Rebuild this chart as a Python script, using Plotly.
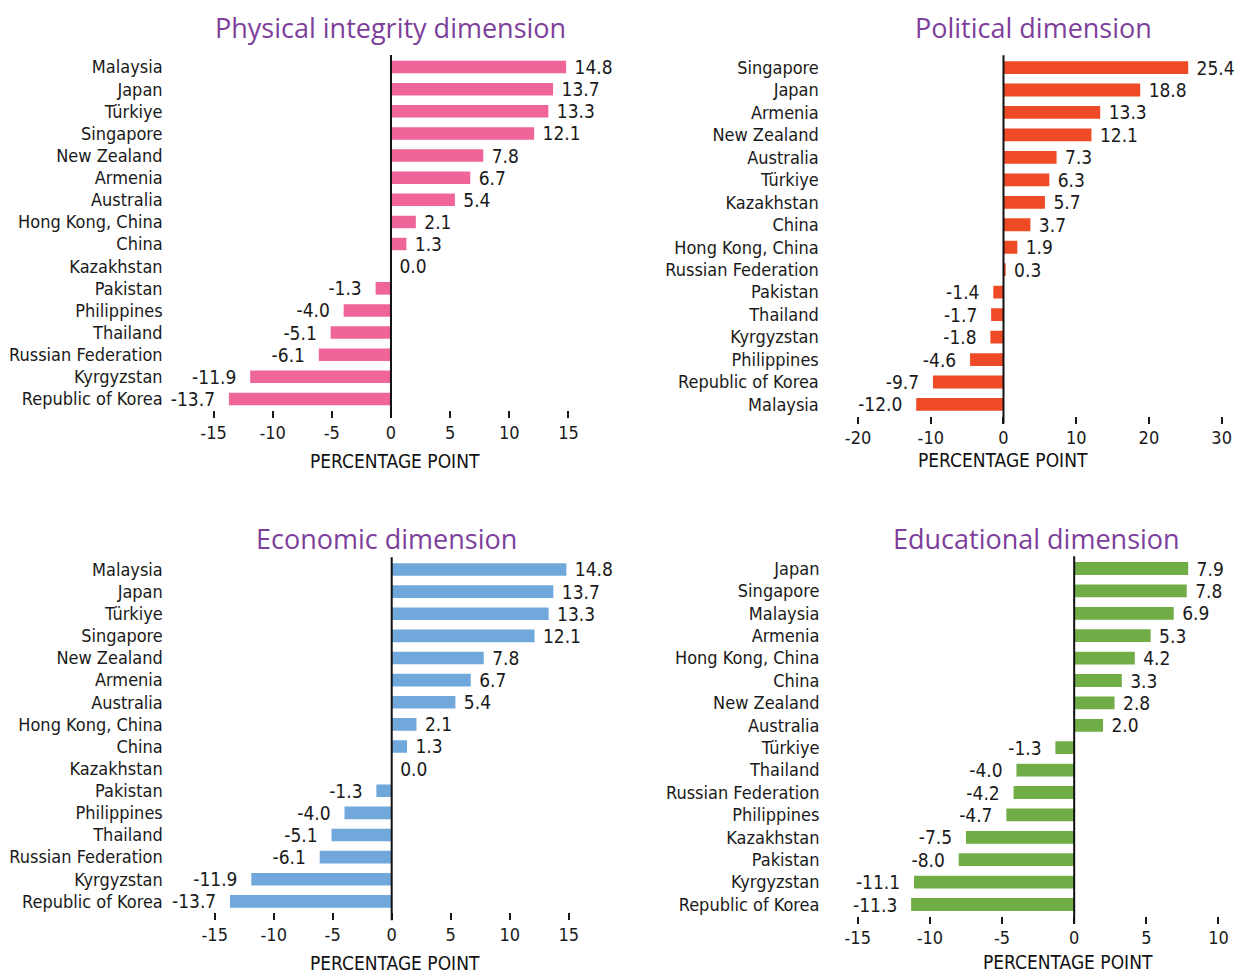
import plotly.graph_objects as go

# ---------------- data ----------------
phys_countries = ["Malaysia", "Japan", "Türkiye", "Singapore", "New Zealand", "Armenia", "Australia",
                  "Hong Kong, China", "China", "Kazakhstan", "Pakistan", "Philippines", "Thailand",
                  "Russian Federation", "Kyrgyzstan", "Republic of Korea"]
phys_values = [14.8, 13.7, 13.3, 12.1, 7.8, 6.7, 5.4, 2.1, 1.3, 0.0, -1.3, -4.0, -5.1, -6.1, -11.9, -13.7]

pol_countries = ["Singapore", "Japan", "Armenia", "New Zealand", "Australia", "Türkiye", "Kazakhstan",
                 "China", "Hong Kong, China", "Russian Federation", "Pakistan", "Thailand", "Kyrgyzstan",
                 "Philippines", "Republic of Korea", "Malaysia"]
pol_values = [25.4, 18.8, 13.3, 12.1, 7.3, 6.3, 5.7, 3.7, 1.9, 0.3, -1.4, -1.7, -1.8, -4.6, -9.7, -12.0]

eco_countries = ["Malaysia", "Japan", "Türkiye", "Singapore", "New Zealand", "Armenia", "Australia",
                 "Hong Kong, China", "China", "Kazakhstan", "Pakistan", "Philippines", "Thailand",
                 "Russian Federation", "Kyrgyzstan", "Republic of Korea"]
eco_values = [14.8, 13.7, 13.3, 12.1, 7.8, 6.7, 5.4, 2.1, 1.3, 0.0, -1.3, -4.0, -5.1, -6.1, -11.9, -13.7]

edu_countries = ["Japan", "Singapore", "Malaysia", "Armenia", "Hong Kong, China", "China", "New Zealand",
                 "Australia", "Türkiye", "Thailand", "Russian Federation", "Philippines", "Kazakhstan",
                 "Pakistan", "Kyrgyzstan", "Republic of Korea"]
edu_values = [7.9, 7.8, 6.9, 5.3, 4.2, 3.3, 2.8, 2.0, -1.3, -4.0, -4.2, -4.7, -7.5, -8.0, -11.1, -11.3]

titles = ["Physical integrity dimension", "Political dimension", "Economic dimension", "Educational dimension"]
axis_title = "PERCENTAGE POINT"
tick_sets = [[-15, -10, -5, 0, 5, 10, 15], [-20, -10, 0, 10, 20, 30],
             [-15, -10, -5, 0, 5, 10, 15], [-15, -10, -5, 0, 5, 10]]

# ---------------- styling ----------------
OFF = 8                       # page body margin of the html page
W, H = 1247 - OFF, 976 - OFF  # figure size so that it exactly fills the window
COND = "DejaVu Sans Condensed, Liberation Sans Narrow, Arial Narrow, sans-serif"
TITLE_FONT = "Open Sans, Lato, sans-serif"
PURPLE = "#7D3F9B"
TXT = "#1a1a1a"
NB = "\u00a0"
colors = ["#EF6499", "#EE4A25", "#70A8DB", "#70AD47"]

# screen-pixel layout targets
panels = [
    # countries, values, x range, x px (left,right), y px (top,bottom), label standoff,
    # title centre x, title top (fig px), axis-title x, axis-title y (fig px)
    (phys_countries, phys_values, [-15.5, 16.5], (207.6, 586.2), (56, 410), 44, 390, 0, 395, 453),
    (pol_countries, pol_values, [-21, 31], (850.8, 1228.9), (56.3, 415.7), 31, 1033, 0, 1003, 452),
    (eco_countries, eco_values, [-15.5, 16.5], (208.8, 586.4), (558.4, 912.4), 45, 387, 511, 395, 955),
    (edu_countries, edu_values, [-15.5, 10.5], (850.5, 1225.7), (557.3, 915.7), 30, 1036, 511, 1068, 954),
]


def fx(px):
    return (px - OFF) / W


def fy(px):
    return 1 - (px - OFF) / H


fig = go.Figure()
annotations = []
shapes = []
for i, (cats, vals, xr, xd, yd, standoff, tx, ty, ax_x, ax_y) in enumerate(panels):
    n = "" if i == 0 else str(i + 1)
    labels = [(NB + f"{v:.1f}") if v >= 0 else (f"{v:.1f}" + NB + NB) for v in vals]
    fig.add_trace(go.Bar(
        y=cats, x=vals, orientation="h",
        marker=dict(color=colors[i], line=dict(width=0)),
        text=labels, textposition="outside", constraintext="none",
        textfont=dict(family=COND, size=19, color=TXT),
        cliponaxis=False, xaxis="x" + n, yaxis="y" + n, showlegend=False,
        hoverinfo="x+y",
    ))
    fig.layout["xaxis" + n] = dict(
        domain=[fx(xd[0]), fx(xd[1])], range=xr, anchor="y" + n, automargin=False,
        tickmode="array", tickvals=tick_sets[i], ticktext=[str(t) for t in tick_sets[i]],
        ticks="outside", ticklen=7, tickwidth=2, tickcolor=TXT,
        ticklabelstandoff=-1,
        showline=False, showgrid=False, zeroline=False,
        tickfont=dict(family=COND, size=18, color=TXT),
    )
    fig.layout["yaxis" + n] = dict(
        domain=[fy(yd[1]), fy(yd[0])], anchor="x" + n, automargin=False,
        autorange="reversed", type="category", categoryorder="array", categoryarray=cats,
        tickmode="array", tickvals=cats, ticktext=cats,
        showline=False, showgrid=False, zeroline=False, ticks="",
        ticklabelstandoff=standoff,
        tickfont=dict(family=COND, size=18, color=TXT),
    )
    shapes.append(dict(type="line", xref="x" + n, yref="y" + n + " domain",
                       x0=0, x1=0, y0=-0.022, y1=1.003,
                       line=dict(color="#111111", width=2)))
    annotations.append(dict(text=titles[i], x=fx(tx), y=1 - ty / H, xref="paper", yref="paper",
                            xanchor="center", yanchor="top", showarrow=False, borderpad=0,
                            font=dict(family=TITLE_FONT, size=27, color=PURPLE)))
    annotations.append(dict(text=axis_title, x=fx(ax_x), y=1 - ax_y / H, xref="paper", yref="paper",
                            xanchor="center", yanchor="middle", showarrow=False,
                            font=dict(family=COND, size=19, color="#111111")))

fig.update_layout(
    width=W, height=H, margin=dict(l=0, r=0, t=0, b=0, autoexpand=False),
    paper_bgcolor="white", plot_bgcolor="white",
    bargap=0.43, annotations=annotations, shapes=shapes,
)
fig.write_html("out.html")
